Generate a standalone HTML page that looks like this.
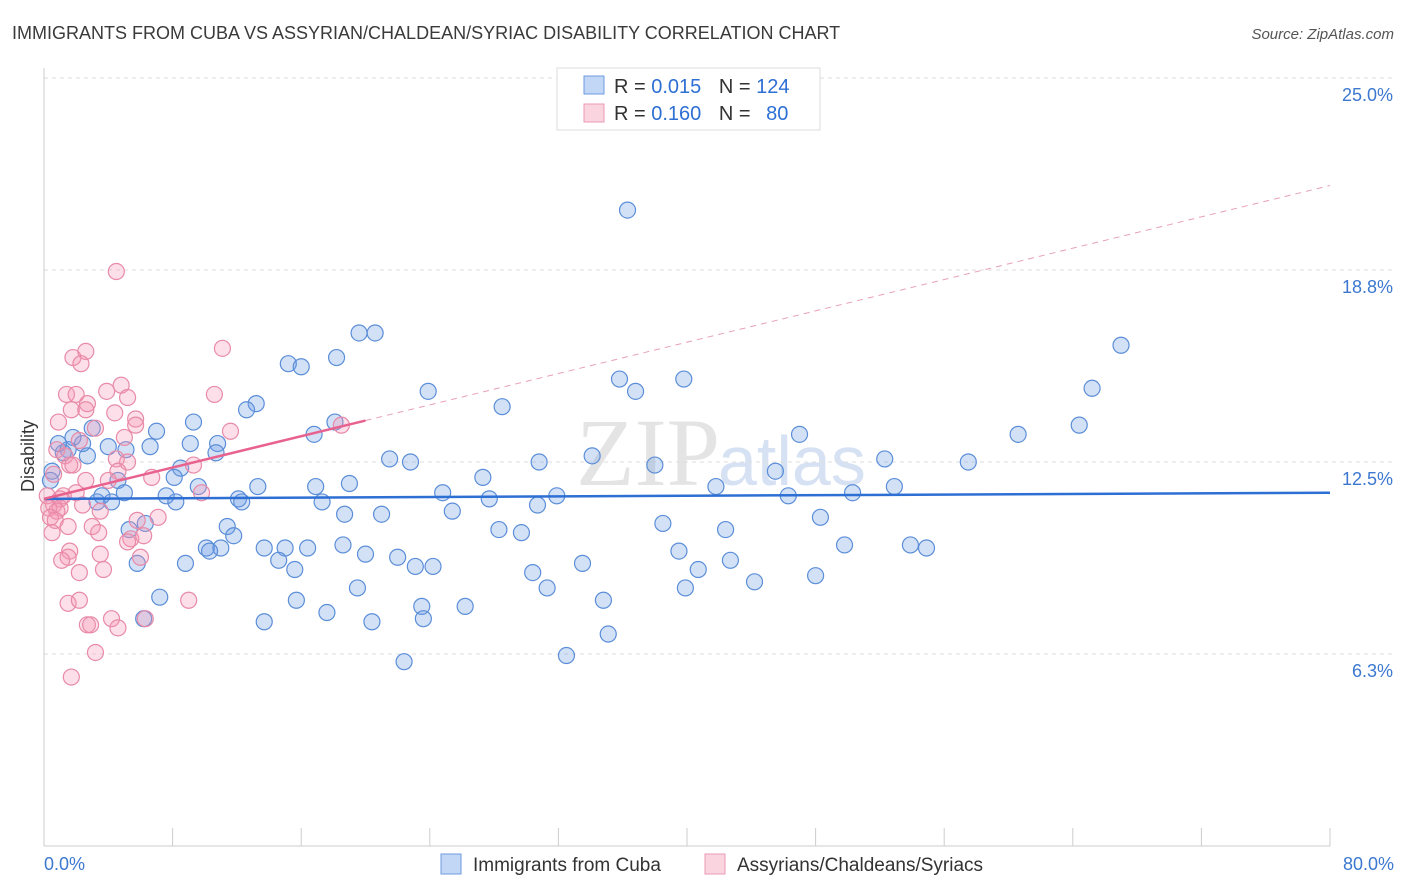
<!DOCTYPE html>
<html><head><meta charset="utf-8">
<style>
body{margin:0;background:#fff;font-family:"Liberation Sans",sans-serif;}
#wrap{position:relative;width:1406px;height:892px;overflow:hidden;}
</style></head>
<body>
<div id="wrap">
<svg id="chart" width="1406" height="892" xmlns="http://www.w3.org/2000/svg">
<text x="12" y="39" font-size="18" fill="#3a3a3a">IMMIGRANTS FROM CUBA VS ASSYRIAN/CHALDEAN/SYRIAC DISABILITY CORRELATION CHART</text>
<text x="1394" y="39" font-size="15" fill="#555" font-style="italic" text-anchor="end">Source: ZipAtlas.com</text>
<text x="720" y="485" font-size="96" fill="#e4e4e4" text-anchor="end" font-family="Liberation Serif, serif">ZIP</text>
<text x="718" y="485" font-size="70" fill="#d6e2f3">atlas</text>
<g id="grid"></g><g id="axes"></g><g id="pts"></g><g id="lines"></g>
<text x="34" y="456" font-size="18" fill="#333" text-anchor="middle" transform="rotate(-90 34 456)">Disability</text>
<g>
<rect x="557" y="68" width="263" height="62" fill="#fff" stroke="#ddd"/>
<rect x="584" y="76" width="20" height="18" fill="rgba(120,165,235,0.45)" stroke="#6d9be0"/>
<rect x="584" y="104" width="20" height="18" fill="rgba(245,160,185,0.45)" stroke="#ec9ab4"/>
<text x="614" y="93" font-size="20" fill="#333">R = <tspan fill="#2e6fd4">0.015</tspan>  <tspan dx="12">N = </tspan><tspan fill="#2e6fd4">124</tspan></text>
<text x="614" y="120" font-size="20" fill="#333">R = <tspan fill="#2e6fd4">0.160</tspan>  <tspan dx="12">N = </tspan><tspan fill="#2e6fd4" dx="10">80</tspan></text>
</g>
<g>
<rect x="441" y="854" width="20" height="20" fill="rgba(120,165,235,0.45)" stroke="#6d9be0"/>
<text x="473" y="871" font-size="19" fill="#333">Immigrants from Cuba</text>
<rect x="705" y="854" width="20" height="20" fill="rgba(245,160,185,0.45)" stroke="#ec9ab4"/>
<text x="737" y="871" font-size="19" fill="#333">Assyrians/Chaldeans/Syriacs</text>
</g>
</svg>
</div>
<script>
const yTicks=[6.25,12.5,18.75,25];
const yTickLabels=["6.3%","12.5%","18.8%","25.0%"];
const xLabels=["0.0%","80.0%"];
const cubaX=[36.3,67.0,65.2,64.4,60.6,57.5,52.3,52.9,50.3,47.0,45.5,46.3,48.3,49.8,53.9,54.9,48.0,44.2,42.7,42.4,41.8,39.8,36.8,35.8,38.0,38.5,39.5,40.7,39.9,34.1,33.5,34.8,35.1,32.5,31.9,30.8,30.7,29.7,30.4,31.3,28.5,27.3,27.7,28.3,23.9,24.8,25.4,26.2,24.2,23.1,23.5,23.6,22.4,21.5,22.8,22.0,21.0,20.0,19.5,20.4,19.6,20.6,18.2,18.1,16.8,19.0,16.9,17.3,18.7,18.6,17.6,15.2,16.0,13.2,12.6,13.3,12.1,12.3,13.7,15.0,16.4,14.6,15.6,15.7,13.7,10.8,10.7,9.1,9.3,9.6,11.4,11.8,11.0,10.1,10.3,8.8,8.5,8.1,8.2,7.6,7.0,6.6,6.3,5.3,5.8,7.2,6.2,4.6,5.0,4.2,3.3,3.6,4.0,5.1,3.0,2.7,2.4,1.8,1.5,1.2,0.9,0.5,0.4];
const cubaY=[20.7,16.3,14.9,13.7,13.4,12.5,12.6,11.7,11.5,13.4,12.2,11.4,10.7,9.8,9.8,9.7,8.8,8.6,9.3,10.3,11.7,15.2,14.8,15.2,12.4,10.5,9.6,9.0,8.4,12.7,9.2,8.0,6.9,6.2,11.4,12.5,11.1,10.2,8.9,8.4,14.3,12.0,11.3,10.3,14.8,11.5,10.9,7.8,9.1,9.1,7.8,7.4,6.0,12.6,12.5,9.4,10.8,9.5,8.4,7.3,16.7,16.7,15.9,13.8,13.4,11.8,11.7,11.2,10.8,9.8,7.6,15.7,15.6,14.4,14.2,11.7,11.3,11.2,9.7,9.7,9.7,9.3,9.0,8.0,7.3,13.1,12.8,13.1,13.8,11.7,10.4,10.1,9.7,9.7,9.6,9.2,12.3,12.0,11.2,11.4,13.5,13.0,10.5,10.3,9.2,8.1,7.4,11.9,11.5,11.2,11.2,11.4,13.0,12.9,13.6,12.7,13.1,13.3,12.9,12.8,13.1,12.2,11.9];
const asyX=[4.5,11.1,2.6,1.8,2.3,4.8,3.9,1.4,2.0,10.6,5.2,2.7,1.7,2.6,4.4,5.7,5.7,0.9,18.5,11.6,3.2,5.0,2.2,0.8,1.3,4.5,5.2,1.6,1.8,9.3,4.6,0.6,6.7,2.6,4.0,9.8,2.0,1.0,1.2,0.2,0.6,1.0,0.3,0.8,2.4,3.5,0.4,0.7,7.1,5.8,1.5,3.0,0.5,3.4,5.4,6.2,5.2,1.6,1.5,3.5,6.0,1.1,3.7,2.2,9.0,1.5,2.2,4.2,6.3,2.7,2.9,4.6,3.2,1.7];
const asyY=[18.7,16.2,16.1,15.9,15.7,15.0,14.8,14.7,14.7,14.7,14.6,14.4,14.2,14.2,14.1,13.9,13.7,13.8,13.7,13.5,13.6,13.3,13.2,12.9,12.7,12.6,12.5,12.4,12.4,12.4,12.2,12.1,12.0,11.9,11.9,11.5,11.5,11.3,11.4,11.4,11.1,11.0,11.0,10.9,11.1,10.9,10.7,10.6,10.7,10.6,10.4,10.4,10.2,10.2,10.0,10.1,9.9,9.6,9.4,9.5,9.4,9.3,9.0,8.9,8.0,7.9,8.0,7.4,7.4,7.2,7.2,7.1,6.3,5.5];
const cubaTrend=[11.3,11.5];
const asyTrend=[11.3,21.5];
const asySolidEnd=20;

const NS="http://www.w3.org/2000/svg";
const X=v=>44+v/80*1286;
const Y=v=>846-v/6.25*192;
function mk(tag,attrs,parent){const e=document.createElementNS(NS,tag);for(const k in attrs)e.setAttribute(k,attrs[k]);parent.appendChild(e);return e;}
const grid=document.getElementById('grid'),axes=document.getElementById('axes'),pts=document.getElementById('pts'),lines=document.getElementById('lines');
yTicks.forEach((t,i)=>{
 const l=mk('line',{x1:44,x2:1394,y1:Y(t),y2:Y(t),stroke:'#ddd','stroke-dasharray':'4,4'},grid);
 
 
 const tx=mk('text',{x:1393,y:Y(t)+23,'font-size':18,fill:'#3c78d0','text-anchor':'end'},axes);
 tx.textContent=yTickLabels[i];
 
 
});
const ya=mk('line',{x1:44,x2:44,y1:68,y2:846,stroke:'#ccc'},axes);


const xa=mk('line',{x1:44,x2:1330,y1:846,y2:846,stroke:'#ccc'},axes);


for(let i=0;i<=10;i++){
 const tk=mk('line',{x1:X(i*8),x2:X(i*8),y1:828,y2:846,stroke:'#ccc'},axes);
 
 
}
[[0,'start',44],[80,'end',1394]].forEach((d,i)=>{
 const tx=mk('text',{x:d[2],y:870,'font-size':18,fill:'#3c78d0','text-anchor':d[1]},axes);
 tx.textContent=xLabels[i];
 
 
});
cubaX.forEach((v,i)=>{
 const c=mk('circle',{cx:X(v),cy:Y(cubaY[i]),r:8,fill:'rgba(110,155,230,0.3)',stroke:'#5b8ed8','stroke-width':1.2},pts);
 
 
});
asyX.forEach((v,i)=>{
 const c=mk('circle',{cx:X(v),cy:Y(asyY[i]),r:8,fill:'rgba(245,150,180,0.3)',stroke:'#e88aa8','stroke-width':1.2},pts);
 
 
});
const bl=mk('line',{x1:X(0),y1:Y(cubaTrend[0]),x2:X(80),y2:Y(cubaTrend[1]),stroke:'#2e6fd4','stroke-width':2.5},lines);


const ay=x=>asyTrend[0]+(asyTrend[1]-asyTrend[0])*x/80;
const pd=mk('line',{x1:X(asySolidEnd),y1:Y(ay(asySolidEnd)),x2:X(80),y2:Y(ay(80)),stroke:'#e8a0b8','stroke-width':1,'stroke-dasharray':'6,5'},lines);


const ps=mk('line',{x1:X(0),y1:Y(ay(0)),x2:X(asySolidEnd),y2:Y(ay(asySolidEnd)),stroke:'#e8628f','stroke-width':2.5},lines);


</script>
</body></html>
